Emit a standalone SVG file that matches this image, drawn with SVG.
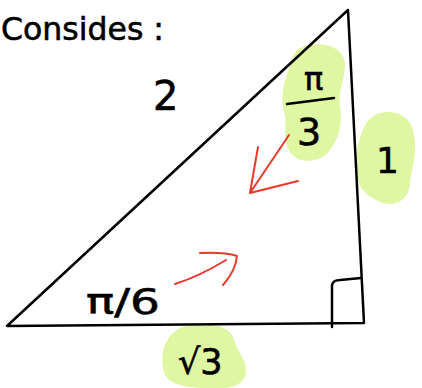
<svg xmlns="http://www.w3.org/2000/svg" width="422" height="388" viewBox="0 0 422 388">
<style>
.hl{fill:#dff7a2;stroke:none}
.ink{fill:none;stroke:#000;stroke-width:2.5;stroke-linecap:round;stroke-linejoin:round}
.red{fill:none;stroke:#e8392a;stroke-width:2;stroke-linecap:round;stroke-linejoin:round}
.t{font-family:"DejaVu Sans","Liberation Sans",sans-serif;fill:#000;stroke:#000;stroke-width:0.6}
</style>
<rect width="422" height="388" fill="#fff"/>
<g id="highlights">
<path class="hl" d="M300 48 C318 40 345 45 345 65 C345 80 338 90 340 105 C343 125 338 140 330 150 C322 162 300 166 290 152 C282 140 287 128 285 115 C280 100 283 85 288 72 C291 60 293 52 300 48 Z"/>
<path class="hl" d="M375 115 C392 107 412 115 414 135 C418 155 410 172 410 185 C408 200 395 207 383 203 C370 198 358 190 357 175 C355 160 357 145 362 132 C366 122 370 118 375 115 Z"/>
<path class="hl" d="M180 328 C200 320 230 323 234 340 C236 350 247 360 246 372 C245 385 230 390 210 388 C190 388 168 386 164 372 C160 358 162 338 180 328 Z"/>
</g>
<g id="triangle">
<path class="ink" d="M7 326 L364 323 L348 10 Z"/>
<path class="ink" d="M332 327 L332 285 Q333 280 340 280 L361 278"/>
</g>
<g id="labels">
<text class="t" x="1" y="40" font-size="32" textLength="163" lengthAdjust="spacingAndGlyphs">Consides :</text>
<text class="t" x="153" y="110" font-size="40">2</text>
<text class="t" x="304" y="90" font-size="32">π</text>
<path class="ink" d="M287 104 L334 98"/>
<text class="t" x="297" y="145" font-size="38">3</text>
<text class="t" x="376" y="173" font-size="36">1</text>
<text class="t" x="86" y="314" font-size="36" textLength="74" lengthAdjust="spacingAndGlyphs">π/6</text>
<text class="t" x="178" y="374" font-size="35">√3</text>
</g>
<g id="connectors">
<path class="red" d="M289 135 L250 193 M258 147 L250 193 L298 181"/>
<path class="red" d="M175 284 Q200 276 226 260 M200 253 Q225 252 237 256 Q236 270 223 285"/>
</g>
</svg>
